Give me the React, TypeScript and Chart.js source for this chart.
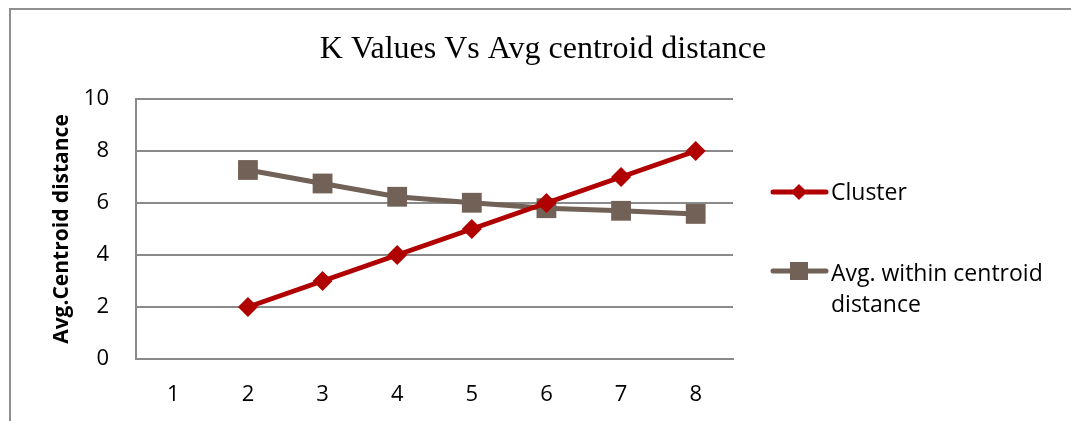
import React, { useEffect, useRef } from "react";
import { Chart, registerables } from "chart.js";

Chart.register(...registerables);

const kValues = ["1", "2", "3", "4", "5", "6", "7", "8"];
const clusterValues = [null, 2, 3, 4, 5, 6, 7, 8];
const avgWithinValues = [null, 7.27, 6.75, 6.24, 6.01, 5.8, 5.7, 5.58];
const yMin = 0;
const yMax = 10;
const yStep = 2;
const chartTitle = "K Values Vs Avg centroid distance";
const yAxisTitle = "Avg.Centroid distance";
const seriesNames = ["Cluster", "Avg. within centroid distance"];

const RED = "#B00000";
const BROWN = "#726157";
const GRID = "#8a8a8a";
const SANS = "'Open Sans', 'Liberation Sans', sans-serif";
const SERIF = "'Liberation Serif', 'Times New Roman', serif";

function wrapText(ctx: CanvasRenderingContext2D, text: string, maxWidth: number): string[] {
  const words = text.split(" ");
  const lines: string[] = [];
  let cur = "";
  for (const w of words) {
    const test = cur ? cur + " " + w : w;
    if (ctx.measureText(test).width > maxWidth && cur) {
      lines.push(cur);
      cur = w;
    } else {
      cur = test;
    }
  }
  if (cur) lines.push(cur);
  return lines;
}

const decorPlugin = {
  id: "decor",
  afterDraw(chart: any) {
    const ctx: CanvasRenderingContext2D = chart.ctx;
    ctx.save();
    // title
    ctx.fillStyle = "#000";
    ctx.font = `32px ${SERIF}`;
    ctx.textAlign = "center";
    ctx.textBaseline = "alphabetic";
    ctx.fillText(chartTitle, 543, 58);

    // legend
    const entries = [
      { y: 192, baseline: 200 },
      { y: 271, baseline: 281 },
    ];
    ctx.font = `23px ${SANS}`;
    ctx.textAlign = "left";
    chart.data.datasets.forEach((ds: any, i: number) => {
      const e = entries[i];
      ctx.strokeStyle = ds.borderColor;
      ctx.lineWidth = 5;
      ctx.lineCap = "round";
      ctx.beginPath();
      ctx.moveTo(773, e.y);
      ctx.lineTo(826, e.y);
      ctx.stroke();
      ctx.fillStyle = ds.pointBackgroundColor;
      ctx.beginPath();
      if (ds.pointStyle === "rectRot") {
        const r = 8;
        ctx.moveTo(799, e.y - r);
        ctx.lineTo(799 + r, e.y);
        ctx.lineTo(799, e.y + r);
        ctx.lineTo(799 - r, e.y);
        ctx.closePath();
      } else {
        const h = 9;
        ctx.rect(799 - h, e.y - h, 2 * h, 2 * h);
      }
      ctx.fill();
      ctx.fillStyle = "#000";
      const lines = wrapText(ctx, ds.label, 232);
      lines.forEach((ln, j) => ctx.fillText(ln, 831, e.baseline + j * 31));
    });
    ctx.restore();
  },
};

export default function App() {
  const ref = useRef<HTMLCanvasElement | null>(null);
  useEffect(() => {
    if (!ref.current) return;
    const chart = new Chart(ref.current, {
      type: "line",
      data: {
        labels: kValues,
        datasets: [
          {
            label: seriesNames[0],
            data: clusterValues,
            borderColor: RED,
            backgroundColor: RED,
            pointBackgroundColor: RED,
            pointBorderColor: RED,
            pointStyle: "rectRot",
            pointRadius: 10,
            pointBorderWidth: 0,
            borderWidth: 5,
            tension: 0,
          },
          {
            label: seriesNames[1],
            data: avgWithinValues,
            borderColor: BROWN,
            backgroundColor: BROWN,
            pointBackgroundColor: BROWN,
            pointBorderColor: BROWN,
            pointStyle: "rect",
            pointRadius: 14,
            pointBorderWidth: 0,
            borderWidth: 5,
            tension: 0,
          },
        ],
      },
      options: {
        animation: false,
        responsive: false,
        devicePixelRatio: 1,
        layout: { padding: { left: 0, top: 99, right: 338, bottom: 0 } },
        plugins: {
          legend: { display: false },
          title: { display: false },
          tooltip: { enabled: false },
        },
        scales: {
          x: {
            type: "category",
            offset: true,
            grid: { display: false, drawTicks: false },
            border: { display: true, color: GRID, width: 2 },
            ticks: { color: "#000", font: { family: SANS, size: 22 }, padding: 23 },
            afterFit: (s: any) => {
              s.height = 62;
            },
          },
          y: {
            min: yMin,
            max: yMax,
            grid: { color: GRID, lineWidth: 2, drawTicks: false },
            border: { display: true, color: GRID, width: 2 },
            ticks: { stepSize: yStep, color: "#000", font: { family: SANS, size: 22 }, padding: 27 },
            title: {
              display: true,
              text: yAxisTitle,
              color: "#000",
              font: { family: SANS, size: 21, weight: "bold" },
              padding: { top: 49, bottom: 0 },
            },
            afterFit: (s: any) => {
              s.width = 136;
            },
          },
        },
      },
      plugins: [decorPlugin],
    } as any);
    return () => chart.destroy();
  }, []);

  return (
    <div style={{ position: "fixed", left: 0, top: 0, width: 1071, height: 421, overflow: "hidden", background: "#fff" }}>
      <div
        style={{
          position: "absolute",
          left: 9,
          top: 8,
          width: 1200,
          height: 600,
          border: "2px solid #8f8f8f",
          boxSizing: "border-box",
        }}
      />
      <canvas ref={ref} width={1071} height={421} style={{ position: "absolute", left: 0, top: 0, width: 1071, height: 421 }} />
    </div>
  );
}
